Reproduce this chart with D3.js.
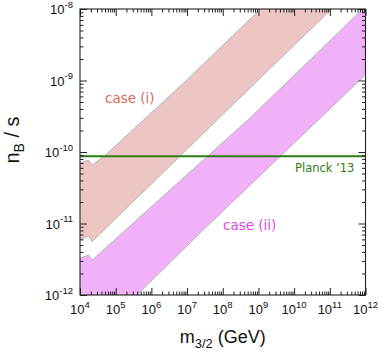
<!DOCTYPE html>
<html><head><meta charset="utf-8">
<script src="https://cdn.jsdelivr.net/npm/d3@7"></script>
<style>
html,body{margin:0;padding:0;background:#fff;}
svg{display:block;}
</style></head>
<body>
<svg id="chart" width="383" height="358"></svg>
<script>
// ---- data ----
const xTickExps = [4,5,6,7,8,9,10,11,12];
const yTickExps = [-12,-11,-10,-9,-8];

// case (i) band edges
const caseIUpperM = [1e4, 1.73e4, 2.2e4, 4.83e4, 9.86e6, 1.14e9];
const caseIUpperN = [7.0e-11, 7.7e-11, 6.6e-11, 8.8e-11, 1.02e-9, 1e-8];
const caseILowerM = [1e4, 1.73e4, 2.2e4, 5.8e8, 1.13e11];
const caseILowerN = [5.87e-12, 6.68e-12, 5.6e-12, 7.85e-10, 1e-8];

// case (ii) band edges
const caseIIUpperM = [1e4, 1.73e4, 2.2e4, 5.8e8, 8.3e11];
const caseIIUpperN = [3.29e-12, 3.62e-12, 3.09e-12, 2.99e-10, 1e-8];
const caseIILowerM = [4.0e5, 9.3e5, 2.82e7, 2.42e10, 1e12];
const caseIILowerN = [1e-12, 1.52e-12, 8.1e-12, 2.03e-10, 1.2e-9];

const planckValue = 8.7e-11;

// ---- chart ----
const svg = d3.select("#chart");
const x = d3.scaleLog().domain([1e4, 1e12]).range([80, 365.5]);
const y = d3.scaleLog().domain([1e-12, 1e-8]).range([295, 9]);
const [x0, x1] = x.range(), [y0, y1] = y.range();

svg.append("defs").append("clipPath").attr("id","clip")
  .append("rect").attr("x", x0).attr("y", y1).attr("width", x1-x0).attr("height", y0-y1);

const zip = (ms, ns) => ms.map((m,i)=>[m, ns[i]]);
const line = d3.line().x(d=>x(d[0])).y(d=>y(d[1]));

const pU = zip(caseIUpperM, caseIUpperN), pL = zip(caseILowerM, caseILowerN);
const vU = zip(caseIIUpperM, caseIIUpperN), vL = zip(caseIILowerM, caseIILowerN);

const g = svg.append("g").attr("clip-path","url(#clip)");

// case (i) fill
g.append("path").attr("d", line(pU.concat(pL.slice().reverse())) + "Z")
  .attr("fill", "#edc5c5");
// case (ii) fill
const vPoly = vU.concat([[1e12,1e-8]], vL.slice().reverse(), [[1e4,1e-12]]);
g.append("path").attr("d", line(vPoly) + "Z").attr("fill", "#f1b1f9");

[pU, pL, vU, vL].forEach(pts => {
  g.append("path").attr("d", line(pts)).attr("fill","none")
    .attr("stroke","#b0b0b0").attr("stroke-width",0.9);
});

// Planck line
g.append("line").attr("x1", x0).attr("x2", x1)
  .attr("y1", y(planckValue)).attr("y2", y(planckValue))
  .attr("stroke", "#2d7d12").attr("stroke-width", 2);

// ---- axes (ticks inward on all sides) ----
const xMajors = xTickExps.map(e => Math.pow(10, e));
const yMajors = yTickExps.map(e => Math.pow(10, e));
const minorsOf = (exps) => {
  const out = [];
  for (let i = 0; i < exps.length - 1; i++)
    for (let k = 2; k <= 9; k++) out.push(k * Math.pow(10, exps[i]));
  return out;
};
const xMinors = minorsOf(xTickExps), yMinors = minorsOf(yTickExps);
const axColor = "#222";

function addAxis(gen, tf, vals, size) {
  const a = svg.append("g").attr("transform", tf)
    .call(gen.tickValues(vals).tickSize(size).tickFormat(""));
  a.select(".domain").remove();
  a.selectAll(".tick line").attr("stroke", axColor).attr("stroke-width", 1);
}
addAxis(d3.axisBottom(x), `translate(0,${y0})`, xMajors, -7);
addAxis(d3.axisBottom(x), `translate(0,${y0})`, xMinors, -3.5);
addAxis(d3.axisTop(x), `translate(0,${y1})`, xMajors, -7);
addAxis(d3.axisTop(x), `translate(0,${y1})`, xMinors, -3.5);
addAxis(d3.axisLeft(y), `translate(${x0},0)`, yMajors, -7);
addAxis(d3.axisLeft(y), `translate(${x0},0)`, yMinors, -3.5);
addAxis(d3.axisRight(y), `translate(${x1},0)`, yMajors, -7);
addAxis(d3.axisRight(y), `translate(${x1},0)`, yMinors, -3.5);

svg.append("rect").attr("x", x0).attr("y", y1).attr("width", x1-x0).attr("height", y0-y1)
  .attr("fill","none").attr("stroke", axColor).attr("stroke-width", 1.1);

const font = "'Liberation Sans', Arial, Helvetica, sans-serif";

// x tick labels
xTickExps.forEach(e => {
  const t = svg.append("text").attr("x", x(Math.pow(10,e))).attr("y", 314)
    .attr("text-anchor","middle").attr("font-family", font).attr("font-size", 13).attr("fill","#111");
  t.append("tspan").text("10");
  t.append("tspan").attr("dy", -6.5).attr("font-size", 9.5).text(String(e));
});
// y tick labels
yTickExps.forEach(e => {
  const t = svg.append("text").attr("x", 73).attr("y", y(Math.pow(10,e)) + 5)
    .attr("text-anchor","end").attr("font-family", font).attr("font-size", 13).attr("fill","#111");
  t.append("tspan").text("10");
  t.append("tspan").attr("dy", -6.5).attr("font-size", 9.5).text(String(e));
});

// axis titles
const xt = svg.append("text").attr("x", (x0+x1)/2).attr("y", 343)
  .attr("text-anchor","middle").attr("font-family", font).attr("font-size", 18).attr("fill","#111");
xt.append("tspan").text("m");
xt.append("tspan").attr("dy", 5).attr("font-size", 13).text("3/2");
xt.append("tspan").attr("dy", -5).text(" (GeV)");

const yt = svg.append("text").attr("transform", "translate(19,140) rotate(-90)")
  .attr("text-anchor","middle").attr("font-family", font).attr("font-size", 20).attr("fill","#111");
yt.append("tspan").text("n");
yt.append("tspan").attr("dy", 5).attr("font-size", 14).text("B");
yt.append("tspan").attr("dy", -5).text(" / s");

// annotations
const annFont = "'DejaVu Sans', sans-serif";
svg.append("text").attr("x", 105).attr("y", 103).attr("font-family", annFont)
  .attr("font-size", 13.5).attr("fill", "#e0685a").text("case (i)");
svg.append("text").attr("x", 223).attr("y", 230).attr("font-family", annFont)
  .attr("font-size", 13.5).attr("fill", "#e048ee").text("case (ii)");
svg.append("text").attr("x", 295).attr("y", 172).attr("font-family", annFont)
  .attr("font-size", 11.5).attr("fill", "#2d7d12").text("Planck \u201913");
</script>
</body></html>
